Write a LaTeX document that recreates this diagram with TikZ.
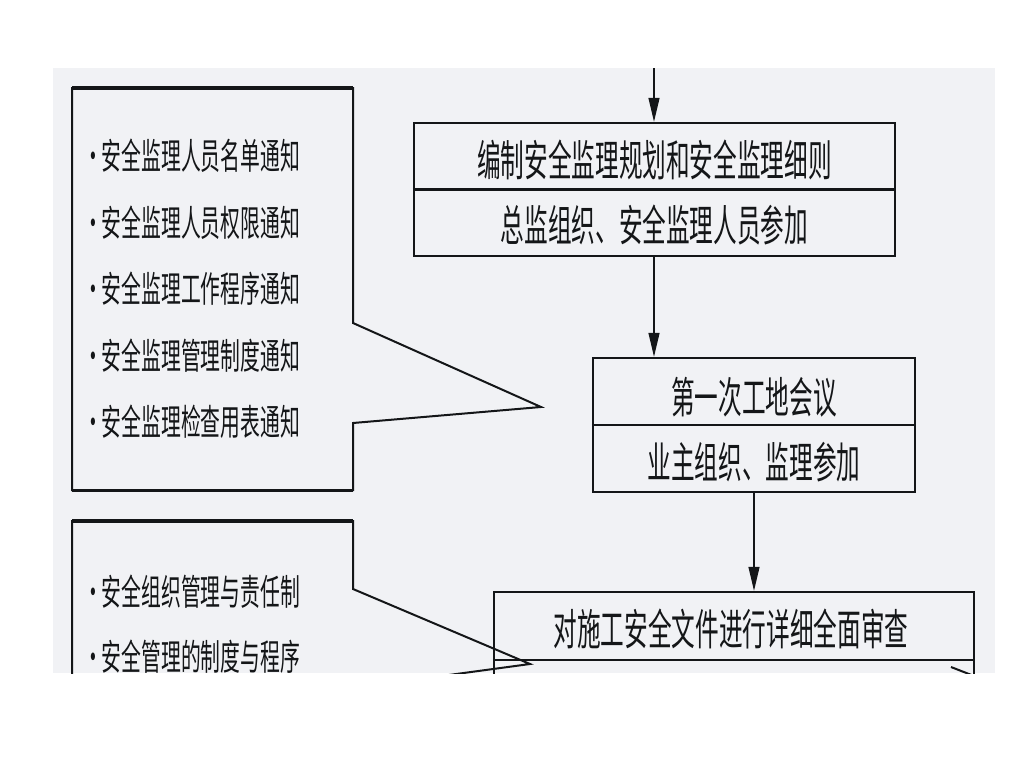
\documentclass[tikz,border=0pt]{standalone}
\usepackage{fontspec}
\setmainfont{Noto Sans CJK SC}
\usetikzlibrary{arrows.meta}
\definecolor{scan}{RGB}{241,242,245}
\definecolor{ink}{RGB}{20,22,24}
\newcommand\sqz[1]{\scalebox{0.55}[1]{#1}}
\begin{document}
\begin{tikzpicture}[x=1pt,y=-1pt,
  box/.style={draw=ink, line width=2.4pt, minimum width=#1, inner sep=0pt},
  divline/.style={draw=ink, line width=2.6pt},
  callline/.style={draw=ink, line width=2pt, line join=miter},
  boxtext/.style={font=\fontsize{43}{43}\selectfont, inner sep=0pt, text=ink},
  calltext/.style={font=\fontsize{36}{36}\selectfont, inner sep=0pt, anchor=west, text=ink},
  flow/.style={draw=ink, line width=1.3pt, -{Triangle[width=11pt,length=24pt]}}]
\useasboundingbox (0,0) rectangle (1024,768);
\fill[white] (0,0) rectangle (1024,768);
\begin{scope}
\clip (53,68) rectangle (995,673);
\fill[scan] (53,68) rectangle (995,673);

% flow boxes
\node[box=481pt, minimum height=133pt] (b1) at (654.5,189.5) {};
\draw[divline] (b1.west) -- (b1.east);
\node[boxtext] (b1a) at (654.5,160) {\sqz{编制安全监理规划和安全监理细则}};
\node[boxtext] (b1b) at (654.5,225) {\sqz{总监组织、安全监理人员参加}};

\node[box=322pt, minimum height=134pt] (b2) at (754,425) {};
\draw[divline] (b2.west) -- (b2.east);
\node[boxtext] (b2a) at (754,397) {\sqz{第一次工地会议}};
\node[boxtext] (b2b) at (754,462) {\sqz{业主组织、监理参加}};

\node[box=480pt, minimum height=136pt] (b3) at (734,660) {};
\draw[divline] (b3.west) -- (b3.east);
\node[boxtext] (b3a) at (731,629) {\sqz{对施工安全文件进行详细全面审查}};

% connectors
\coordinate (top) at (654,55);
\draw[flow] (top) -- (top |- b1.north);
\draw[flow] (b1.south -| top) -- (top |- b2.north);
\draw[flow] (b2.south) -- (b2.south |- b3.north);

% callout 1
\draw[callline] (72,88) -- (353,88) -- (353,323) -- (541,407) -- (353,423) -- (353,490) -- (72,490) -- cycle;
\draw[ink, line width=3.5pt] (72,88) -- (353,88);
\draw[ink, line width=3pt] (72,490) -- (353,490);
\foreach \yy/\tt in {156/安全监理人员名单通知, 222.5/安全监理人员权限通知, 289/安全监理工作程序通知, 355.5/安全监理管理制度通知, 422/安全监理检查用表通知}
  \node[calltext] at (83,\yy) {\sqz{•\hspace{-2pt}\tt}};

% callout 2
\draw[callline] (72,720) -- (72,521) -- (353,521) -- (353,589) -- (530,664) -- (353,688) -- (353,720);
\draw[ink, line width=3.5pt] (72,521) -- (353,521);
\foreach \yy/\tt in {592/安全组织管理与责任制, 657/安全管理的制度与程序}
  \node[calltext] at (83,\yy) {\sqz{•\hspace{-2pt}\tt}};

% partial right callout
\draw[callline] (951,667) -- (1010,690);
\end{scope}
\end{tikzpicture}
\end{document}
